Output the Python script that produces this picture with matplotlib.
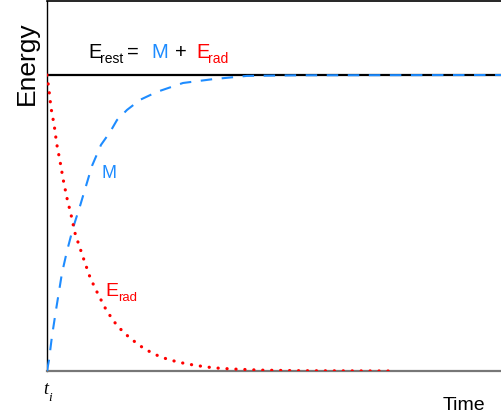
import matplotlib.pyplot as plt

plt.rcParams['font.family'] = ['Liberation Sans', 'DejaVu Sans']

# time (arbitrary units) and energy normalised to E_rest = 1
rad_t = [0, 0.044, 0.089, 0.162, 0.216, 0.289, 0.362, 0.444, 0.540, 0.622,
         0.696, 0.829, 0.962, 1.133, 1.327, 1.562, 1.844, 2.171, 2.527,
         2.911, 3.296, 3.682, 4.082, 4.733, 5.622, 7.667]
rad_e = [1.0, 0.949, 0.889, 0.828, 0.767, 0.709, 0.645, 0.584, 0.524, 0.466,
         0.432, 0.372, 0.314, 0.260, 0.203, 0.152, 0.111, 0.074, 0.047,
         0.030, 0.019, 0.011, 0.007, 0.003, 0.001, 0.0]

mass_t = [0, 0.044, 0.111, 0.2, 0.333, 0.444, 0.578, 0.733, 1.0, 1.2, 1.4,
          1.556, 1.778, 2.067, 2.444, 3.022, 3.689, 4.444, 5.622, 10.2]
mass_e = [0, 0.037, 0.118, 0.206, 0.331, 0.405, 0.483, 0.557, 0.693, 0.764,
          0.807, 0.848, 0.882, 0.916, 0.943, 0.973, 0.986, 0.997, 0.999, 1.0]

rest_t = [0, 10.2]
rest_e = [1.0, 1.0]

blue = '#1e8cff'
red = '#ff0000'

fig = plt.figure(figsize=(5.02, 4.18), dpi=100)
ax = fig.add_axes([47 / 502, 47 / 418, 1 - 47 / 502, 370 / 418])

ax.plot(rest_t, rest_e, color='black', lw=1.6, zorder=2)
ax.plot(mass_t, mass_e, color=blue, lw=1.5, dashes=(5.5, 4.6), zorder=3)
ax.plot(rad_t, rad_e, color=red, lw=2.3, dashes=(0.05, 2.75),
        dash_capstyle='round', zorder=3)

ax.set_xlim(0, 455 / 45)
ax.set_ylim(0, 370 / 296)
ax.set_xticks([])
ax.set_yticks([])
ax.spines['right'].set_visible(False)
ax.spines['top'].set_linewidth(1.2)
ax.spines['left'].set_linewidth(1.0)
ax.spines['bottom'].set_color('#777777')
ax.spines['bottom'].set_linewidth(1.6)

# equation at the top
ax.text(0.92, 1.057, 'E', fontsize=14.5, va='baseline')
ax.text(1.17, 1.04, 'rest', fontsize=10, va='baseline')
ax.text(1.78, 1.057, '=', fontsize=14.5, va='baseline')
ax.text(2.32, 1.057, 'M', fontsize=14.5, color=blue, va='baseline')
ax.text(2.84, 1.057, '+', fontsize=14.5, va='baseline')
ax.text(3.33, 1.057, 'E', fontsize=14.5, color=red, va='baseline')
ax.text(3.58, 1.04, 'rad', fontsize=10, color=red, va='baseline')

# curve labels
ax.text(1.207, 0.652, 'M', fontsize=13, color=blue, va='baseline')
ax.text(1.29, 0.253, 'E', fontsize=14, color=red, va='baseline')
ax.text(1.58, 0.235, 'rad', fontsize=9.5, color=red, va='baseline')

ax.text(-0.09, -0.078, 't', fontsize=13, family='Liberation Serif',
        style='italic', va='baseline', clip_on=False)
ax.text(0.03, -0.101, 'i', fontsize=9.5, family='Liberation Serif',
        style='italic', va='baseline', clip_on=False)
ax.text(8.8, -0.132, 'Time', fontsize=14, va='baseline', clip_on=False)
fig.text(27 / 502, 1 - 63 / 418, 'Energy', fontsize=19, rotation=90,
         ha='center', va='center')

fig.savefig('out.png', dpi=100)
